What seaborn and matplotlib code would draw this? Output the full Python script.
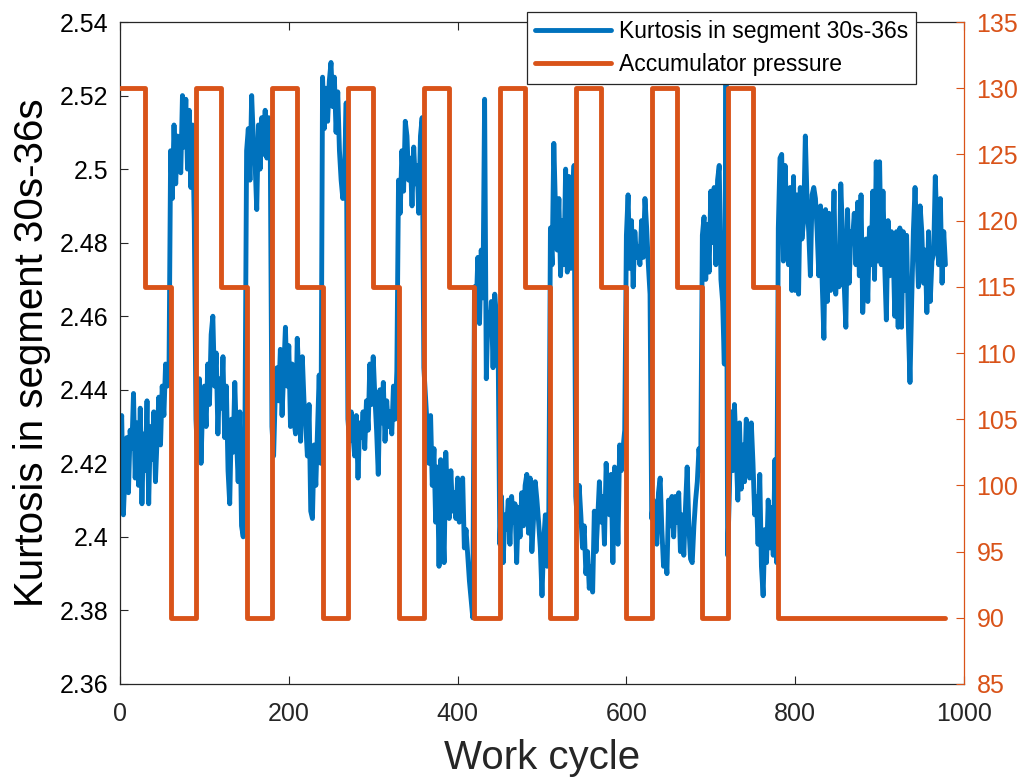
import numpy as np
import pandas as pd
import matplotlib
matplotlib.use("Agg")
import matplotlib.pyplot as plt
from matplotlib.ticker import FuncFormatter
import seaborn as sns

# Kurtosis of the 30s-36s segment, sampled every second work cycle (0, 2, ..., 978)
kurtosis = [
    # 0-58
    2.425, 2.433, 2.406, 2.418, 2.427, 2.412, 2.429, 2.424, 2.439, 2.416,
    2.431, 2.414, 2.435, 2.409, 2.428, 2.418, 2.437, 2.409, 2.430, 2.421,
    2.434, 2.415, 2.427, 2.438, 2.425, 2.441, 2.433, 2.447, 2.441, 2.444,
    # 60-88
    2.505, 2.492, 2.512, 2.496, 2.509, 2.503, 2.499, 2.520, 2.506, 2.519,
    2.500, 2.516, 2.495, 2.512, 2.486,
    # 90-148
    2.432, 2.421, 2.443, 2.420, 2.437, 2.441, 2.430, 2.447, 2.436, 2.455,
    2.460, 2.441, 2.450, 2.428, 2.443, 2.435, 2.449, 2.427, 2.441, 2.418,
    2.409, 2.432, 2.423, 2.442, 2.427, 2.415, 2.434, 2.403, 2.400, 2.428,
    # 150-178
    2.505, 2.511, 2.497, 2.520, 2.508, 2.502, 2.489, 2.512, 2.500, 2.514,
    2.504, 2.516, 2.503, 2.514, 2.507,
    # 180-238
    2.430, 2.422, 2.439, 2.446, 2.437, 2.451, 2.433, 2.445, 2.457, 2.441,
    2.452, 2.430, 2.447, 2.432, 2.428, 2.454, 2.443, 2.426, 2.449, 2.437,
    2.431, 2.422, 2.436, 2.407, 2.405, 2.425, 2.414, 2.429, 2.444, 2.420,
    # 240-268
    2.525, 2.511, 2.522, 2.513, 2.524, 2.529, 2.517, 2.525, 2.510, 2.521,
    2.505, 2.497, 2.492, 2.499, 2.518,
    # 270-328
    2.432, 2.426, 2.434, 2.428, 2.422, 2.433, 2.416, 2.431, 2.427, 2.434,
    2.424, 2.437, 2.429, 2.447, 2.436, 2.449, 2.438, 2.429, 2.417, 2.440,
    2.431, 2.442, 2.426, 2.437, 2.430, 2.434, 2.428, 2.441, 2.432, 2.445,
    # 330-358
    2.497, 2.488, 2.505, 2.494, 2.513, 2.509, 2.497, 2.503, 2.490, 2.506,
    2.496, 2.501, 2.488, 2.509, 2.514,
    # 360-418
    2.446, 2.438, 2.430, 2.420, 2.433, 2.414, 2.424, 2.404, 2.419, 2.392,
    2.421, 2.406, 2.393, 2.423, 2.410, 2.405, 2.418, 2.407, 2.412, 2.405,
    2.416, 2.404, 2.409, 2.416, 2.397, 2.402, 2.395, 2.388, 2.383, 2.378,
    # 420-448
    2.468, 2.462, 2.476, 2.458, 2.478, 2.465, 2.519, 2.443, 2.461, 2.456,
    2.464, 2.446, 2.466, 2.460, 2.452,
    # 450-508
    2.398, 2.411, 2.393, 2.406, 2.402, 2.410, 2.398, 2.411, 2.404, 2.409,
    2.393, 2.408, 2.400, 2.412, 2.403, 2.414, 2.417, 2.401, 2.416, 2.396,
    2.405, 2.415, 2.410, 2.404, 2.397, 2.384, 2.399, 2.406, 2.392, 2.404,
    # 510-538
    2.484, 2.474, 2.507, 2.489, 2.478, 2.492, 2.471, 2.486, 2.474, 2.500,
    2.472, 2.498, 2.473, 2.490, 2.501,
    # 540-598
    2.411, 2.404, 2.414, 2.406, 2.397, 2.403, 2.390, 2.396, 2.386, 2.392,
    2.385, 2.407, 2.396, 2.405, 2.415, 2.404, 2.411, 2.398, 2.420, 2.411,
    2.406, 2.417, 2.393, 2.419, 2.416, 2.398, 2.425, 2.418, 2.424, 2.429,
    # 600-628
    2.482, 2.493, 2.473, 2.486, 2.468, 2.483, 2.476, 2.479, 2.474, 2.486,
    2.476, 2.492, 2.484, 2.474, 2.466,
    # 630-688
    2.405, 2.410, 2.408, 2.398, 2.412, 2.416, 2.402, 2.392, 2.397, 2.390,
    2.410, 2.403, 2.411, 2.400, 2.411, 2.404, 2.412, 2.396, 2.406, 2.395,
    2.408, 2.419, 2.403, 2.394, 2.393, 2.403, 2.410, 2.415, 2.424, 2.418,
    # 690-718
    2.482, 2.487, 2.470, 2.485, 2.472, 2.494, 2.480, 2.495, 2.474, 2.497,
    2.501, 2.470, 2.464, 2.447, 2.525,
    # 720-778
    2.395, 2.412, 2.434, 2.418, 2.436, 2.424, 2.410, 2.431, 2.413, 2.425,
    2.415, 2.432, 2.427, 2.416, 2.431, 2.420, 2.406, 2.411, 2.398, 2.417,
    2.392, 2.384, 2.402, 2.393, 2.410, 2.397, 2.408, 2.395, 2.421, 2.393,
    # 780-978
    2.484, 2.503, 2.504, 2.475, 2.501, 2.487, 2.474, 2.495, 2.467, 2.498,
    2.467, 2.493, 2.466, 2.495, 2.481, 2.486, 2.509, 2.492, 2.483, 2.471,
    2.493, 2.495, 2.492, 2.483, 2.471, 2.490, 2.469, 2.454, 2.489, 2.464,
    2.488, 2.467, 2.477, 2.494, 2.466, 2.478, 2.468, 2.496, 2.483, 2.469,
    2.457, 2.489, 2.469, 2.483, 2.481, 2.488, 2.474, 2.491, 2.471, 2.493,
    2.461, 2.474, 2.481, 2.464, 2.484, 2.474, 2.494, 2.470, 2.502, 2.475,
    2.502, 2.474, 2.494, 2.474, 2.459, 2.486, 2.471, 2.483, 2.479, 2.460,
    2.483, 2.457, 2.484, 2.457, 2.483, 2.467, 2.482, 2.458, 2.442, 2.464,
    2.483, 2.495, 2.481, 2.468, 2.490, 2.483, 2.469, 2.478, 2.461, 2.483,
    2.464, 2.475, 2.477, 2.498, 2.483, 2.474, 2.492, 2.469, 2.483, 2.474,
]
cycle_step = 2

# Accumulator pressure set-points: cycle at which each level starts
pressure_start = [0, 30, 60, 90, 120, 150, 180, 210, 240, 270, 300, 330, 360,
                  390, 420, 450, 480, 510, 540, 570, 600, 630, 660, 690, 720,
                  750, 780]
pressure_level = [130, 115, 90, 130, 115, 90, 130, 115, 90, 130, 115, 90, 130,
                  115, 90, 130, 115, 90, 130, 115, 90, 130, 115, 90, 130,
                  115, 90]
pressure_end = 978

x_ticks = [0, 200, 400, 600, 800, 1000]
left_ticks = [2.36, 2.38, 2.40, 2.42, 2.44, 2.46, 2.48, 2.50, 2.52, 2.54]
right_ticks = [85, 90, 95, 100, 105, 110, 115, 120, 125, 130, 135]

BLUE = "#0072BD"
ORANGE = "#D95319"
DARK = "#262626"

sns.set_style("white")
plt.rcParams["font.family"] = ["Liberation Sans", "DejaVu Sans"]

kurt_df = pd.DataFrame({
    "cycle": np.arange(len(kurtosis)) * cycle_step,
    "kurtosis": kurtosis,
})
press_df = pd.DataFrame({
    "cycle": pressure_start + [pressure_end],
    "pressure": pressure_level + [pressure_level[-1]],
})

fig = plt.figure(figsize=(10.29, 7.8), dpi=100)
ax = fig.add_axes([0.11662, 0.12308, 0.82021, 0.84871])

sns.lineplot(data=kurt_df, x="cycle", y="kurtosis", ax=ax, color=BLUE,
             linewidth=3.5, estimator=None, label="Kurtosis in segment 30s-36s")

ax2 = ax.twinx()
sns.lineplot(data=press_df, x="cycle", y="pressure", ax=ax2, color=ORANGE,
             linewidth=3.5, estimator=None, sort=False, drawstyle="steps-post",
             label="Accumulator pressure")

# axes limits and ticks
ax.set_xlim(0, 1000)
ax.set_ylim(2.36, 2.54)
ax2.set_ylim(85, 135)
ax.set_xticks(x_ticks)
ax.set_yticks(left_ticks)
ax2.set_yticks(right_ticks)
fmt = FuncFormatter(lambda v, _: f"{v:g}")
ax.yaxis.set_major_formatter(fmt)
ax2.yaxis.set_major_formatter(fmt)

ax.tick_params(axis="x", direction="in", length=6, width=0.8, color=DARK,
               labelsize=18, labelcolor=DARK, pad=13, top=True, bottom=True)
ax.tick_params(axis="y", direction="in", length=6, width=0.8, color=DARK,
               labelsize=18, labelcolor="black", pad=8.5, left=True, right=False)
ax2.tick_params(axis="y", direction="in", length=6, width=0.8, color=ORANGE,
                labelsize=18, labelcolor=ORANGE, pad=9, right=True, left=False)

for side in ["left", "top", "bottom"]:
    ax.spines[side].set_color(DARK)
    ax.spines[side].set_linewidth(0.9)
    ax.spines[side].set_visible(True)
ax.spines["right"].set_visible(False)
for side in ["left", "top", "bottom"]:
    ax2.spines[side].set_visible(False)
ax2.spines["right"].set_color(ORANGE)
ax2.spines["right"].set_linewidth(0.9)

ax.set_xlabel("Work cycle", fontsize=29, color=DARK, labelpad=9)
ax.set_ylabel("Kurtosis in segment 30s-36s", fontsize=29, color="black", labelpad=6)
ax2.set_ylabel("")

# combined legend
ax.get_legend().remove()
h1, l1 = ax.get_legend_handles_labels()
h2, l2 = ax2.get_legend_handles_labels()
leg = ax2.legend(h1 + h2, l1 + l2, loc="upper right",
                 bbox_to_anchor=(916 / 1029, 1 - 12 / 780),
                 bbox_transform=fig.transFigure, borderaxespad=0,
                 fontsize=16.5, frameon=True, fancybox=False, framealpha=1,
                 edgecolor=DARK, handlelength=3.3, handletextpad=0.35,
                 borderpad=0.35, labelspacing=0.42)
leg.get_frame().set_linewidth(0.9)
for t in leg.get_texts():
    t.set_color("black")

fig.savefig("out.png", dpi=100)
